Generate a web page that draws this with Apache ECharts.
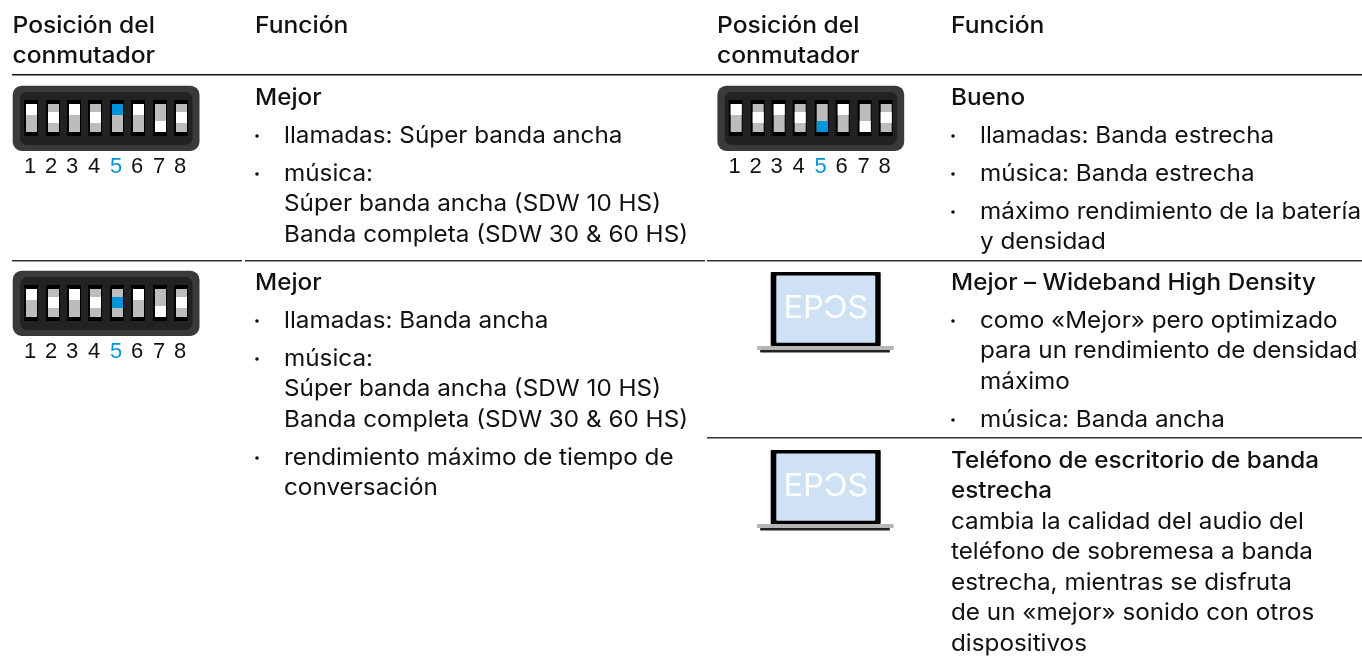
<!DOCTYPE html>
<html>
<head>
<meta charset="utf-8">
<style>
  html, body { margin: 0; padding: 0; background: #fff; }
  #main { width: 1362px; height: 657px; }
</style>
<script src="https://cdn.jsdelivr.net/npm/echarts@6/dist/echarts.min.js"></script>
</head>
<body>
<div id="main"></div>
<script>
// texto de la tabla
const headerLeft = ['Posición del', 'conmutador']
const headerRight = ['Función']
const switchLabels = ['1', '2', '3', '4', '5', '6', '7', '8']

// 0 = arriba, 1 = centro, 2 = abajo (el 5 va en azul)
const switchBest = [0, 1, 0, 1, 0, 0, 2, 1]
const switchGood = [0, 1, 0, 1, 2, 0, 2, 1]
const switchBestCalls = [0, 1, 0, 1, 1, 0, 2, 1]

const bestTitle = ['Mejor']
const bestItems = [
  ['llamadas: Súper banda ancha'],
  ['música:', 'Súper banda ancha (SDW 10 HS)', 'Banda completa (SDW 30 & 60 HS)']
]
const goodTitle = ['Bueno']
const goodItems = [
  ['llamadas: Banda estrecha'],
  ['música: Banda estrecha'],
  ['máximo rendimiento de la batería', 'y densidad']
]
const bestCallsTitle = ['Mejor']
const bestCallsItems = [
  ['llamadas: Banda ancha'],
  ['música:', 'Súper banda ancha (SDW 10 HS)', 'Banda completa (SDW 30 & 60 HS)'],
  ['rendimiento máximo de tiempo de', 'conversación']
]
const wideTitle = ['Mejor – Wideband High Density']
const wideItems = [
  ['como «Mejor» pero optimizado', 'para un rendimiento de densidad', 'máximo'],
  ['música: Banda ancha']
]
const deskTitle = ['Teléfono de escritorio de banda', 'estrecha']
const deskLines = [
  'cambia la calidad del audio del',
  'teléfono de sobremesa a banda',
  'estrecha, mientras se disfruta',
  'de un «mejor» sonido con otros',
  'dispositivos'
]

const FONT = 'Inter, "Noto Sans", sans-serif'
const LINE = 30.5
const GAP = 38
const BODY_SCALE = 1.055
const TEXT_SHIFT = 0.8
const graphics = []

const text = (str, x, y, opts = {}) => {
  graphics.push({
    type: 'text',
    x,
    y: y + TEXT_SHIFT,
    scaleX: opts.scaleX || BODY_SCALE,
    style: {
      text: str,
      fontFamily: opts.font || FONT,
      fontSize: opts.size || 23,
      fontWeight: opts.weight || 400,
      fill: opts.color || '#111',
      verticalAlign: 'middle',
      align: opts.align || 'left'
    }
  })
}

const rect = (x, y, width, height, fill, r = 0) => {
  graphics.push({ type: 'rect', shape: { x, y, width, height, r }, style: { fill } })
}

const rule = (x1, x2, y, color = '#333') => {
  rect(x1, y, x2 - x1, 1.4, color)
}

// bloque de función: título y viñetas
const block = (x, y, title, items, lines) => {
  let cy = y
  title.forEach((t, i) => {
    if (i) cy += LINE
    text(t, x, cy, { weight: 500 })
  })
  ;(items || []).forEach(item => {
    cy += GAP
    graphics.push({
      type: 'circle',
      shape: { cx: x + 2, cy: cy + 1, r: 1.8 },
      style: { fill: '#111' }
    })
    item.forEach((t, i) => {
      if (i) cy += LINE
      text(t, x + 29, cy)
    })
  })
  ;(lines || []).forEach(t => {
    cy += LINE
    text(t, x, cy)
  })
}

const SLOT_X = [24, 46, 67, 88, 110, 131, 153, 174]
const LABEL_X = [30, 51, 72, 94, 116, 137, 159, 180]
const STATE_Y = [0, 8, 17]

const dipSwitch = (dx, dy, states) => {
  rect(12.7 + dx, 85.7 + dy, 186.8, 65.3, '#3a3a3a', 9)
  rect(20 + dx, 92 + dy, 172.5, 53, '#222', 7)
  states.forEach((s, i) => {
    const sx = SLOT_X[i] + dx
    rect(sx, 100 + dy, 14, 36, '#000')
    rect(sx + 2, 104 + dy, 11, 28, '#bcbcbc')
    rect(sx + 2, 104 + STATE_Y[s] + dy, 11, 11, i === 4 ? '#0095db' : '#fff')
    text(switchLabels[i], LABEL_X[i] + dx, 166.5 + dy, {
      font: '"Liberation Sans", Arial, sans-serif',
      size: 22,
      scaleX: 1,
      align: 'center',
      color: i === 4 ? '#0095db' : '#111'
    })
  })
}

const laptop = dy => {
  rect(770.7, 272 + dy, 110, 74, '#000', 1)
  rect(776.3, 275.4 + dy, 99, 67.3, '#cfe2f5', 1)
  rect(757, 346 + dy, 136.7, 4, '#b5b5b5', 1)
  rect(760, 350 + dy, 130, 2.5, '#222', 1)
  text('EPƆS', 826, 308 + dy, {
    size: 31,
    scaleX: 1.05,
    weight: 400,
    color: '#fff',
    align: 'center'
  })
}

// cabecera
;[0, 704.5].forEach(dx => {
  headerLeft.forEach((t, i) => text(t, 12.5 + dx, 25 + i * LINE, { weight: 500, scaleX: 1.07 }))
  headerRight.forEach(t => text(t, 255 + (dx ? 696 : 0), 25, { weight: 500, scaleX: 1.07 }))
})

// líneas de la tabla
rule(12, 1362, 74, '#111')
rule(12, 242, 260)
rule(245, 705, 260)
rule(707, 1362, 260)
rule(707, 1362, 437)

dipSwitch(0, 0, switchBest)
dipSwitch(704.7, 0, switchGood)
dipSwitch(0, 185, switchBestCalls)
laptop(0)
laptop(178)

block(255, 97, bestTitle, bestItems)
block(951, 97, goodTitle, goodItems)
block(255, 282, bestCallsTitle, bestCallsItems)
block(951, 282, wideTitle, wideItems)
block(951, 460, deskTitle, null, deskLines)

const chart = echarts.init(document.getElementById('main'))
chart.setOption({
  animation: false,
  backgroundColor: '#fff',
  graphic: { elements: graphics }
})
</script>
</body>
</html>
